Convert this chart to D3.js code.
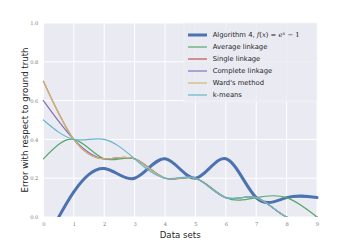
<!DOCTYPE html>
<html><head><meta charset="utf-8">
<script src="https://cdn.jsdelivr.net/npm/d3@7"></script>
<style>html,body{margin:0;padding:0;background:#fff;}svg{display:block;}</style>
</head><body>
<svg id="chart" width="352" height="242"></svg>
<script>
const xTicks = [0,1,2,3,4,5,6,7,8,9];
const yTicks = [0.0,0.2,0.4,0.6,0.8,1.0];
const dataSets = [0,1,2,3,4,5,6,7,8,9];
const algorithm4 = [-0.15,0.13,0.25,0.2,0.3,0.2,0.3,0.1,0.1,0.1];
const averageLinkage = [0.3,0.4,0.3,0.3,0.2,0.2,0.1,0.1,0.1,0.0];
const singleLinkage = [0.7,0.4,0.3,0.3,0.2,0.2,0.1,0.1,0.0,0.0];
const completeLinkage = [0.6,0.4,0.3,0.3,0.2,0.2,0.1,0.1,0.0,0.0];
const wardsMethod = [0.7,0.4,0.3,0.3,0.2,0.2,0.1,0.1,0.0,0.0];
const kMeans = [0.5,0.4,0.4,0.3,0.2,0.2,0.1,0.1,0.0,0.0];
const seriesNames = ["Algorithm 4", "Average linkage","Single linkage","Complete linkage","Ward's method","k-means"];
const colors = ["#4C72B0","#55A868","#C44E52","#8172B2","#CCB974","#64B5CD"];

const series = [algorithm4, averageLinkage, singleLinkage, completeLinkage, wardsMethod, kMeans];
const svg = d3.select("#chart");
const m = {left:43.4, right:35, top:23, bottom:25};
const W = 352, H = 242;
const x = d3.scaleLinear().domain([0,9]).range([m.left, W-m.right]);
const y = d3.scaleLinear().domain([0,1]).range([H-m.bottom, m.top]);

svg.append("rect").attr("x",x(0)).attr("y",y(1)).attr("width",x(9)-x(0)).attr("height",y(0)-y(1)).attr("fill","#EAEAF2");
svg.append("defs").append("clipPath").attr("id","clip").append("rect")
  .attr("x",x(0)-2).attr("y",y(1)).attr("width",x(9)-x(0)+4).attr("height",y(0)-y(1));

// grid
svg.append("g").selectAll("line").data(xTicks).join("line")
  .attr("x1",d=>x(d)).attr("x2",d=>x(d)).attr("y1",y(0)).attr("y2",y(1))
  .attr("stroke","#fff").attr("stroke-width",1);
svg.append("g").selectAll("line").data(yTicks).join("line")
  .attr("x1",x(0)).attr("x2",x(9)).attr("y1",d=>y(d)).attr("y2",d=>y(d))
  .attr("stroke","#fff").attr("stroke-width",1);

// axes via d3 axis
const xAxis = svg.append("g").attr("transform",`translate(0,${y(0)})`)
  .call(d3.axisBottom(x).tickValues(xTicks).tickFormat(d3.format("d")).tickSize(0).tickPadding(5));
const yAxis = svg.append("g").attr("transform",`translate(${x(0)},0)`)
  .call(d3.axisLeft(y).tickValues(yTicks).tickFormat(d3.format(".1f")).tickSize(0).tickPadding(5));
[xAxis,yAxis].forEach(a=>{
  a.select(".domain").remove();
  a.selectAll("text").attr("font-family","'DejaVu Serif', serif").attr("font-size","5.2px").attr("fill","#777");
});

// lines
const line = d3.line().x((d,i)=>x(dataSets[i])).y(d=>y(d)).curve(d3.curveNatural);
const g = svg.append("g").attr("clip-path","url(#clip)");
series.forEach((s,i)=>{
  g.append("path").datum(s).attr("d",line).attr("fill","none")
   .attr("stroke",colors[i]).attr("stroke-width", i===0?3:1.2).attr("stroke-linecap","round");
});

// legend
const lg = svg.append("g");
lg.append("rect").attr("x",184).attr("y",y(1)).attr("width",x(9)-184).attr("height",79)
  .attr("fill","#EAEAF2").attr("fill-opacity",0.8).attr("stroke","#f4f4f8").attr("stroke-width",0.6);
const rowY = i => 35 + i*12;
seriesNames.forEach((n,i)=>{
  lg.append("line").attr("x1",188).attr("x2",207).attr("y1",rowY(i)).attr("y2",rowY(i))
    .attr("stroke",colors[i]).attr("stroke-width", i===0?3:1.2);
  const t = lg.append("text").attr("x",212.7).attr("y",rowY(i)+2.4)
    .attr("font-family","'DejaVu Sans', sans-serif").attr("font-size","6.8px").attr("fill","#262626");
  if(i===0){
    t.append("tspan").text(n+", ");
    const mf = "'DejaVu Serif', serif";
    t.append("tspan").attr("font-family",mf).attr("font-style","italic").text("f");
    t.append("tspan").attr("font-family",mf).text("(");
    t.append("tspan").attr("font-family",mf).attr("font-style","italic").text("x");
    t.append("tspan").attr("font-family",mf).text(") = ");
    t.append("tspan").attr("font-family",mf).attr("font-style","italic").text("e");
    t.append("tspan").attr("font-family",mf).attr("font-style","italic").attr("font-size","4.8px").attr("dy",-2.8).text("x");
    t.append("tspan").attr("font-family",mf).attr("dy",2.8).text(" − 1");
  } else {
    t.text(n);
  }
});

// axis titles
svg.append("text").attr("x",(x(0)+x(9))/2).attr("y",237.5).attr("text-anchor","middle")
  .attr("font-family","'DejaVu Sans', sans-serif").attr("font-size","8.6px").attr("fill","#262626").text("Data sets");
svg.append("text").attr("transform",`translate(28,${(y(0)+y(1))/2}) rotate(-90)`).attr("text-anchor","middle")
  .attr("font-family","'DejaVu Sans', sans-serif").attr("font-size","8.6px").attr("fill","#262626").text("Error with respect to ground truth");
</script>
</body></html>
